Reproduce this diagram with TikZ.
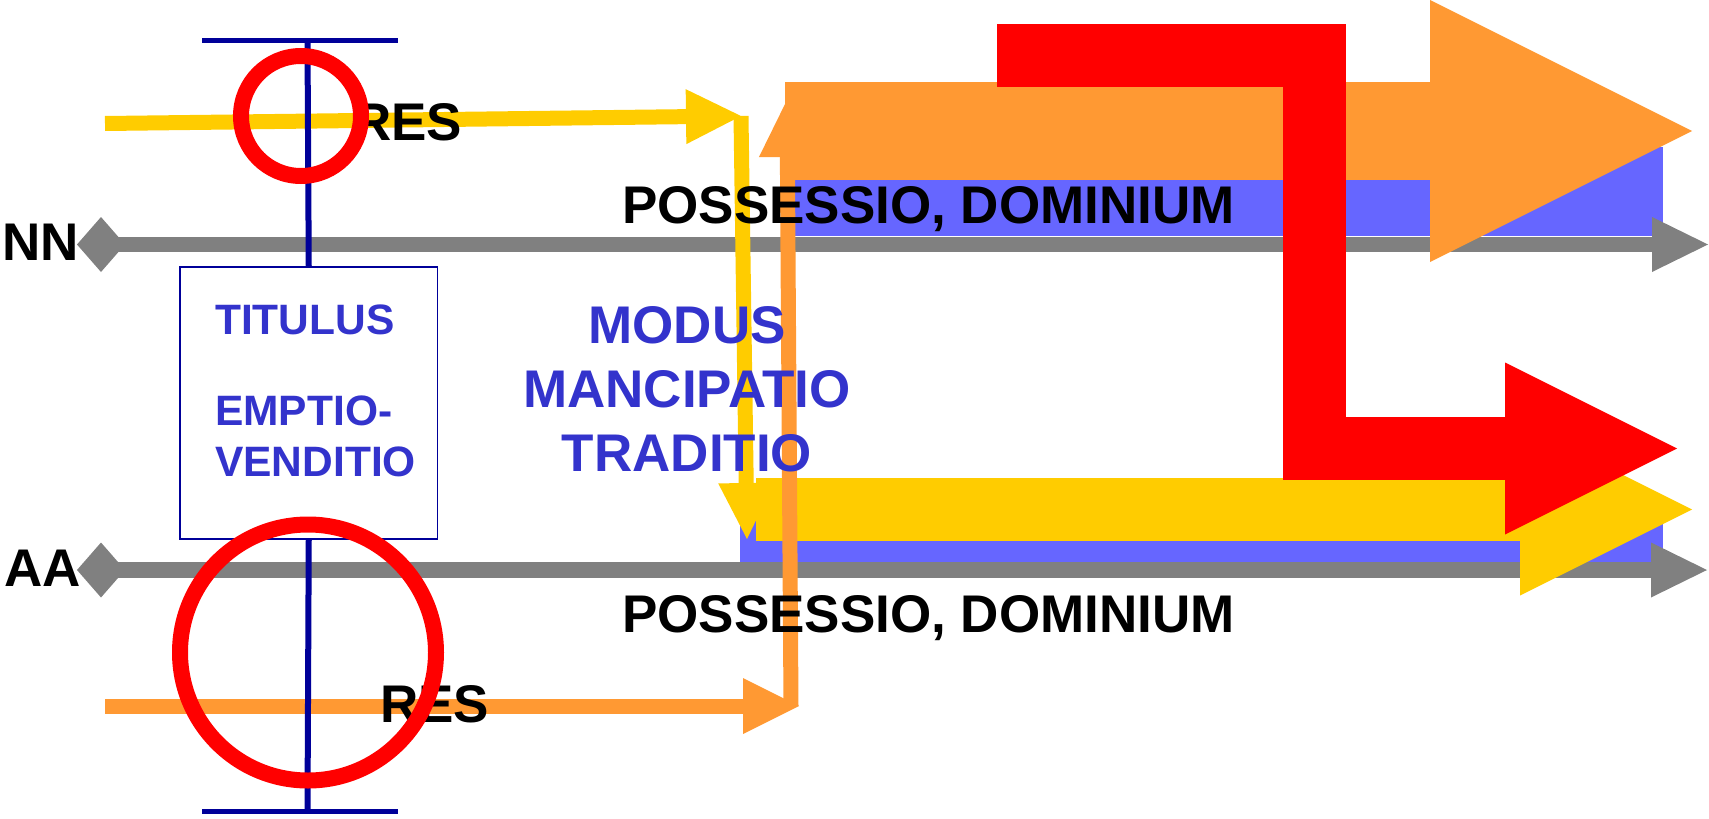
\documentclass[tikz,border=0pt]{standalone}
\usepackage{fontspec}
\setmainfont{Liberation Sans}
\usepackage{tikz}
\usetikzlibrary{arrows.meta}
\definecolor{gold}{HTML}{FFCC00}
\definecolor{tangerine}{HTML}{FF9933}
\definecolor{band}{HTML}{6666FF}
\definecolor{rule}{HTML}{808080}
\definecolor{tbar}{HTML}{000099}
\definecolor{textblue}{HTML}{3333CC}

\begin{document}
\begin{tikzpicture}[
    x=1pt, y=-1pt,
    word/.style={font=\fontsize{53}{60}\selectfont\bfseries, inner sep=0pt, anchor=base west},
    blueword/.style={font=\fontsize{53}{64}\selectfont\bfseries, text=textblue,
                     inner sep=0pt, align=center},
    boxword/.style={font=\fontsize{42.5}{51}\selectfont\bfseries, text=textblue,
                    inner sep=0pt, align=left},
    box/.style={draw=tbar, line width=1.7pt, fill=white, inner sep=0pt,
                minimum width=257.5pt, minimum height=272pt},
    tline/.style={draw=tbar, line width=6pt},
    tcap/.style={draw=tbar, line width=5.6pt},
    ring/.style={draw=red, line width=16pt},
    flow/.style={line width=15pt},
    tipped/.style={-{Triangle[length=#1, width=#1, line width=0pt]}},
    timeline/.style={draw=rule, line width=15.6pt,
                     {Turned Square[length=48pt, width=55pt, line width=0pt]}-{Triangle[length=56pt, width=55pt, line width=0pt]}}]

  \useasboundingbox (0,0) rectangle (1709,819);

  \coordinate (nnstart) at (77,244.5);
  \coordinate (nnend)   at (1708,244.5);
  \coordinate (aastart) at (77,570);
  \coordinate (aaend)   at (1707,570);
  \coordinate (yin)     at (105,123.5);
  \coordinate (ybend)   at (741,116);
  \coordinate (ydown)   at (747,539);
  \coordinate (yband)   at (756,509.5);
  \coordinate (ybandend) at (1692,509.5);
  \coordinate (oin)     at (105,706);
  \coordinate (obend)   at (799,706);
  \coordinate (oup)     at (787,100);
  \coordinate (oband)   at (785,131);
  \coordinate (obandend) at (1692,131);
  \coordinate (r1) at (997,55.5);
  \coordinate (r2) at (1314.5,55.5);
  \coordinate (r3) at (1314.5,448.5);
  \coordinate (r4) at (1677,448.5);
  \coordinate (ttop) at (307.5,40.5);
  \coordinate (tbot) at (307.5,811.5);
  \coordinate (ttopl) at (202,40.5);
  \coordinate (ttopr) at (398,40.5);
  \coordinate (tbotl) at (202,811.5);
  \coordinate (tbotr) at (398,811.5);

  \fill[band] (794,147) rectangle (1663,236);
  \fill[band] (740,515) rectangle (1663,562);

  \draw[timeline] (nnstart) -- (nnend);
  \draw[timeline] (aastart) -- (aaend);

  \draw[gold, line width=63pt, tipped=172pt] (yband) -- (ybandend);
  \draw[tangerine, line width=98pt, tipped=262pt] (oband) -- (obandend);
  \draw[red, line width=63pt, tipped=172pt] (r1) -- (r2) -- (r3) -- (r4);

  \draw[gold, flow, tipped=55pt] (yin) -- (ybend);
  \draw[gold, flow, tipped=56pt] (ybend) -- (ydown);
  \draw[tangerine, flow, tipped=56pt] (oin) -- (obend);
  \draw[tangerine, flow, tipped=57pt] ([xshift=-8pt]obend) -- (oup);

  \node[box] (titulus) at (308.75,403) {};
  \draw[tline] (ttop) -- (titulus.north);
  \draw[tline] (titulus.south) -- (tbot);
  \draw[tcap] (ttopl) -- (ttopr);
  \draw[tcap] (tbotl) -- (tbotr);
  \node[boxword, anchor=base west] (titulustext) at (215,476) {TITULUS\\[40pt]EMPTIO-\\VENDITIO};

  \node[word] (nn) at (2,260) {NN};
  \node[word] (aa) at (4,586) {AA};
  \node[word] (resup)   at (353,140) {RES};
  \node[word] (resdown) at (380,722.7) {RES};
  \node[word] (possup)   at (622,223) {POSSESSIO, DOMINIUM};
  \node[word] (possdown) at (622,632) {POSSESSIO, DOMINIUM};
  \node[blueword, anchor=base] (modus) at (687,471.7) {MODUS\\MANCIPATIO\\TRADITIO};

  \draw[ring] (301,116) circle (60pt);
  \draw[ring] (308,652.5) circle (128pt);
\end{tikzpicture}
\end{document}
